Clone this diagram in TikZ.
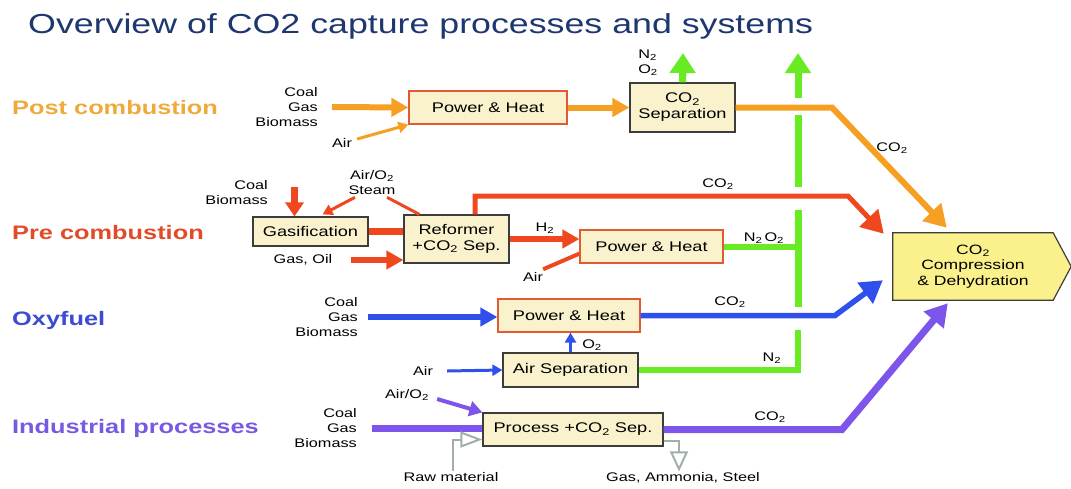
\documentclass[tikz,border=0pt]{standalone}
\usepackage{fontspec}
\setmainfont{Liberation Sans}[FakeStretch=1.3]
\usetikzlibrary{arrows.meta,calc,backgrounds}

\definecolor{postc}{RGB}{245,160,35}
\definecolor{prec}{RGB}{240,72,30}
\definecolor{oxyc}{RGB}{48,80,235}
\definecolor{indc}{RGB}{125,85,235}
\definecolor{nitc}{RGB}{105,235,35}
\definecolor{postl}{RGB}{240,170,60}
\definecolor{prel}{RGB}{225,75,40}
\definecolor{oxyl}{RGB}{60,75,210}
\definecolor{indl}{RGB}{120,90,225}
\definecolor{boxfill}{RGB}{250,242,205}
\definecolor{compfill}{RGB}{250,240,140}
\definecolor{boxline}{RGB}{60,60,60}
\definecolor{phline}{RGB}{225,90,50}
\definecolor{titlec}{RGB}{30,55,110}
\definecolor{rawc}{RGB}{160,175,170}

\newcommand{\cotwo}{CO\textsubscript{2}}

\begin{document}
\begin{tikzpicture}[x=1pt,y=-1pt,
  every node/.style={font=\fontsize{12.5}{15}\selectfont,inner sep=0pt},
  box/.style={draw=boxline,fill=boxfill,line width=1.2pt,align=center,font=\fontsize{14}{16}\selectfont},
  phbox/.style={box,draw=phline},
  rowlbl/.style={font=\bfseries\fontsize{19.5}{22}\selectfont,anchor=west},
  fuel/.style={align=right,anchor=east},
  flowin/.style={line width=6pt,-{Triangle[length=17pt,width=18pt]}},
  small/.style={line width=3pt,-{Triangle[length=10pt,width=11pt]}},
  vent/.style={nitc,line width=7pt,-{Triangle[length=20pt,width=25pt]}},
  outflow/.style={-{Triangle[length=22pt,width=25pt]}}]
\useasboundingbox (0,0) rectangle (1071,488);

\node[anchor=base west,text=titlec,font=\fontsize{27.5}{30}\selectfont] (title) at (28,33) {Overview of CO2 capture processes and systems};

% row labels
\node[rowlbl,text=postl] (lpost) at (12,108) {Post combustion};
\node[rowlbl,text=prel] (lpre) at (12,233) {Pre combustion};
\node[rowlbl,text=oxyl] (loxy) at (12,320) {Oxyfuel};
\node[rowlbl,text=indl] (lind) at (12,428) {Industrial processes};

% capture unit
\node[minimum width=160,minimum height=67,align=center,font=\fontsize{13.5}{15.5}\selectfont] (comp) at (973,266.5) {\cotwo\\Compression\\\& Dehydration};
\begin{scope}[on background layer]
\draw[boxline,fill=compfill,line width=1.2pt] (comp.north west) -- (comp.north east) -- ($(comp.east)+(18,0)$) -- (comp.south east) -- (comp.south west) -- cycle;
\end{scope}

% green N2 bus
\coordinate (bustop) at (798,53);
\draw[nitc,line width=7pt] (798,307) -- (798,210) (798,187) -- (798,115);
\draw[vent] (798,98) -- (bustop);

% post combustion
\node[fuel] (pfuel) at (318,107) {Coal\\Gas\\Biomass};
\node (pair) at (342,143) {Air};
\node[phbox,minimum width=158,minimum height=33] (pph) at (488,107.5) {Power \& Heat};
\node[box,minimum width=105,minimum height=49] (psep) at (682.5,107.5) {\cotwo\\Separation};
\node[align=left] (pvl) at (648,63) {N\textsubscript{2}\\O\textsubscript{2}};
\node (pco2) at (892,148) {\cotwo};
\coordinate (pvent) at (683,53);
\draw[flowin,postc] ([xshift=14pt]pfuel.east) -- (pph.west);
\draw[small,postc] ($(pair.east)+(5,-4)$) -- (pph.south west);
\draw[flowin,postc] (pph.east) -- (psep.west);
\draw[vent] (psep.north) -- (pvent);
\draw[postc,line width=6pt,outflow] (psep.east) -- (832,107.5) -- ($(comp.north west)+(54,-5)$);

% pre combustion
\node[fuel] (prefuel) at (268,193) {Coal\\Biomass};
\node (presteam) at (372,183) [align=center] {Air/O\textsubscript{2}\\Steam};
\node[box,minimum width=115,minimum height=29] (gasif) at (310.5,231.5) {Gasification};
\node[box,minimum width=105,minimum height=48] (reform) at (456.5,239) {Reformer\\+\cotwo\ Sep.};
\node (pregas) at (303,260) {Gas, Oil};
\node[phbox,minimum width=143,minimum height=33] (preph) at (651.5,246.5) {Power \& Heat};
\node (preair) at (533,277) {Air};
\node (h2) at (545,228) {H\textsubscript{2}};
\node (preco2) at (718,184) {\cotwo};
\node (n2o2) at (764,238) {N\textsubscript{2}\,O\textsubscript{2}};
\coordinate (prein) at (294.5,187);
\draw[prec,line width=7pt,-{Triangle[length=14pt,width=18pt]}] (prein) -- (prein |- gasif.north);
\draw[small,prec] ($(presteam.south)+(-17,2)$) -- ($(gasif.north)+(12,-2)$);
\draw[prec,line width=3pt] ($(presteam.south)+(15,2)$) -- ($(reform.north west)+(16,0)$);
\draw[prec,line width=7pt] (gasif.east) -- (reform.west |- gasif.east);
\draw[flowin,prec] ([xshift=18pt]pregas.east) -- (reform.west |- pregas.east);
\draw[flowin,prec] (reform.east) -- (reform.east -| preph.west);
\draw[prec,line width=4pt] ($(preair.north east)+(0,-3)$) -- ($(preph.south west)+(0,-10)$);
\draw[prec,line width=5pt,outflow] ($(reform.north)+(18.5,0)$) |- (848,196) -- ($(comp.north west)+(-9,1)$);
\draw[nitc,line width=6pt] (preph.east) -- (preph.east -| bustop);

% oxyfuel
\node[fuel] (oxyfuel) at (358,317) {Coal\\Gas\\Biomass};
\node[phbox,minimum width=142,minimum height=33] (oxyph) at (569,315.5) {Power \& Heat};
\node[box,minimum width=135,minimum height=34] (asep) at (570.5,370) {Air Separation};
\node (oxyair) at (423,371) {Air};
\node (o2) at (592,345) {O\textsubscript{2}};
\node (oxyco2) at (730,302) {\cotwo};
\node (n2) at (772,358) {N\textsubscript{2}};
\draw[flowin,oxyc] ([xshift=10pt]oxyfuel.east) -- (oxyfuel.east -| oxyph.west);
\draw[small,oxyc] ([xshift=14pt]oxyair.east) -- (asep.west);
\draw[small,oxyc] (asep.north) -- (asep.north |- oxyph.south);
\draw[oxyc,line width=5.5pt,outflow] (oxyph.east) -- (835,315.5) -- ($(comp.south west)+(-10,-20)$);
\draw[nitc,line width=6pt] (asep.east) -| (798,330);

% industrial processes
\node[fuel] (indfuel) at (357,428.5) {Coal\\Gas\\Biomass};
\node[box,minimum width=180,minimum height=33] (proc) at (573,429.5) {Process +\cotwo\ Sep.};
\node (indair) at (407,395) {Air/O\textsubscript{2}};
\node (raw) at (451,477) {Raw material};
\node (prod) at (683,478) {Gas, Ammonia, Steel};
\node (indco2) at (770,417) {\cotwo};
\draw[indc,line width=7pt] ([xshift=15pt]indfuel.east) -- (indfuel.east -| proc.west);
\draw[indc,line width=4pt,-{Triangle[length=13pt,width=15pt]}] ($(indair.east)+(8,4)$) -- (proc.north west);
\draw[rawc,line width=2pt,-{Triangle[open,length=22pt,width=16pt,fill=white]}] ($(raw.north)+(2,-1)$) |- ($(proc.west)+(0,10)$);
\draw[rawc,line width=2pt,-{Triangle[open,length=20pt,width=18pt,fill=white]}] ($(proc.east)+(0,11)$) -| ($(prod.north)+(-4,-1)$);
\draw[indc,line width=7pt,outflow] (proc.east) -- (842,429.5) -- ($(comp.south west)+(55,3)$);
\end{tikzpicture}
\end{document}
